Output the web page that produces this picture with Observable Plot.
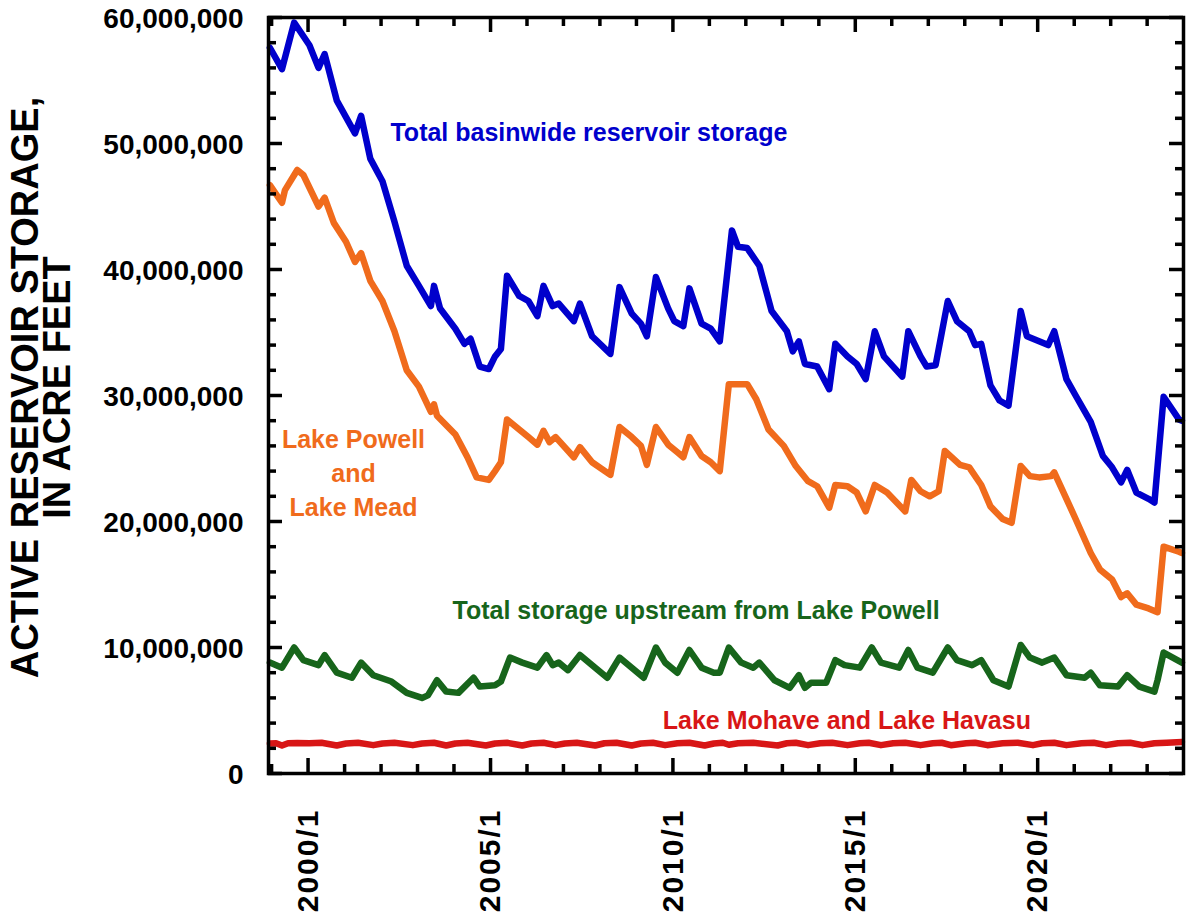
<!DOCTYPE html>
<html>
<head>
<meta charset="utf-8">
<script src="https://cdn.jsdelivr.net/npm/d3@7"></script>
<script src="https://cdn.jsdelivr.net/npm/@observablehq/plot@0.6"></script>
<style>
  html, body { margin: 0; padding: 0; background: #fff; }
  #chart svg { display: block; }
  g[font-size="30"] text { letter-spacing: 2px; }
</style>
</head>
<body>
<div id="chart"></div>
<script>
// ---------------- DATA (values in millions of acre-feet) ----------------
const seriesNames = [
  "Total basinwide reservoir storage",
  "Lake Powell and Lake Mead",
  "Total storage upstream from Lake Powell",
  "Lake Mohave and Lake Havasu"
];

const basinDates = ["1998-12","1999-04","1999-08","2000-01","2000-04","2000-06","2000-10","2001-04","2001-06","2001-09",
  "2002-01","2002-05","2002-09","2003-01","2003-05","2003-06","2003-08","2004-01","2004-04","2004-06",
  "2004-09","2004-12","2005-02","2005-04","2005-06","2005-10","2006-01","2006-04","2006-06","2006-09",
  "2006-11","2007-04","2007-06","2007-10","2008-04","2008-07","2008-11","2009-02","2009-04","2009-07",
  "2009-11","2010-01","2010-04","2010-06","2010-10","2011-01","2011-04","2011-08","2011-10","2012-01",
  "2012-05","2012-09","2013-02","2013-04","2013-06","2013-08","2013-12","2014-04","2014-06","2014-10",
  "2015-01","2015-04","2015-07","2015-10","2016-04","2016-06","2016-10","2016-12","2017-03","2017-07",
  "2017-10","2018-02","2018-04","2018-06","2018-09","2018-12","2019-03","2019-07","2019-09","2020-01",
  "2020-04","2020-06","2020-10","2021-01","2021-06","2021-10","2022-01","2022-04","2022-06","2022-09",
  "2023-01","2023-03","2023-06","2023-11","2023-12"];
const basinValues = [57.6,55.9,59.6,57.8,56.0,57.1,53.4,50.8,52.2,48.8,
  47.0,43.8,40.3,38.7,37.1,38.7,36.9,35.3,34.1,34.5,
  32.3,32.1,33.1,33.7,39.5,37.9,37.5,36.3,38.7,37.1,
  37.3,35.9,37.3,34.7,33.3,38.6,36.5,35.7,34.7,39.4,
  36.9,35.9,35.5,38.5,35.7,35.3,34.3,43.1,41.8,41.7,
  40.3,36.7,35.1,33.5,34.3,32.5,32.3,30.5,34.1,33.1,
  32.5,31.3,35.1,33.1,31.5,35.1,33.1,32.3,32.4,37.5,
  35.9,35.1,34.0,34.1,30.8,29.6,29.2,36.7,34.7,34.3,
  34.0,35.1,31.3,30.0,27.9,25.2,24.3,23.1,24.1,22.3,
  21.8,21.5,29.9,28.1,28.0];

const powellMeadDates = ["1998-12","1999-04","1999-05","1999-09","1999-11","2000-04","2000-06","2000-09","2001-01","2001-04",
  "2001-06","2001-09","2002-01","2002-05","2002-09","2003-01","2003-05","2003-06","2003-07","2004-01",
  "2004-05","2004-08","2004-12","2005-02","2005-04","2005-06","2005-10","2006-01","2006-04","2006-06",
  "2006-08","2006-10","2007-04","2007-06","2007-10","2008-04","2008-07","2008-11","2009-02","2009-04",
  "2009-07","2009-11","2010-02","2010-04","2010-06","2010-10","2011-01","2011-04","2011-07","2012-01",
  "2012-04","2012-08","2013-01","2013-05","2013-09","2013-12","2014-04","2014-06","2014-10","2015-01",
  "2015-04","2015-07","2015-11","2016-05","2016-07","2016-10","2017-01","2017-04","2017-06","2017-11",
  "2018-02","2018-06","2018-09","2019-01","2019-04","2019-07","2019-10","2020-01","2020-05","2020-06",
  "2020-10","2021-01","2021-06","2021-09","2022-01","2022-04","2022-06","2022-09","2023-01","2023-04",
  "2023-06","2023-11","2023-12"];
const powellMeadValues = [46.7,45.3,46.3,47.9,47.5,45.0,45.7,43.7,42.2,40.6,
  41.3,39.1,37.5,35.1,32.0,30.7,28.7,29.3,28.4,26.9,
  25.1,23.5,23.3,24.0,24.7,28.1,27.3,26.7,26.1,27.2,
  26.3,26.7,25.1,25.9,24.7,23.7,27.5,26.7,26.0,24.5,
  27.5,26.1,25.5,25.1,26.7,25.2,24.7,24.0,30.9,30.9,
  29.7,27.3,26.0,24.4,23.2,22.8,21.1,22.9,22.8,22.3,
  20.8,22.9,22.3,20.8,23.3,22.4,22.0,22.4,25.6,24.5,
  24.3,22.9,21.2,20.2,19.9,24.4,23.6,23.5,23.6,23.9,
  21.8,20.2,17.5,16.2,15.4,14.0,14.3,13.4,13.1,12.8,
  18.0,17.6,17.5];

const upstreamDates = ["1998-12","1999-04","1999-08","1999-11","2000-04","2000-06","2000-10","2001-03","2001-06","2001-10",
  "2002-04","2002-09","2003-02","2003-04","2003-07","2003-10","2004-02","2004-07","2004-09","2005-02",
  "2005-04","2005-07","2005-11","2006-04","2006-07","2006-09","2006-11","2007-02","2007-06","2007-11",
  "2008-03","2008-07","2008-11","2009-03","2009-07","2009-10","2010-02","2010-06","2010-10","2011-02",
  "2011-04","2011-07","2011-11","2012-03","2012-05","2012-10","2013-03","2013-06","2013-08","2013-10",
  "2014-03","2014-06","2014-09","2015-02","2015-06","2015-09","2016-03","2016-06","2016-09","2017-02",
  "2017-07","2017-10","2018-03","2018-06","2018-10","2019-03","2019-07","2019-10","2020-02","2020-06",
  "2020-10","2021-04","2021-06","2021-09","2022-03","2022-06","2022-10","2023-03","2023-04","2023-06",
  "2023-12"];
const upstreamValues = [8.8,8.4,10.0,9.0,8.6,9.4,8.0,7.6,8.8,7.8,
  7.3,6.4,6.0,6.2,7.4,6.5,6.4,7.6,6.9,7.0,
  7.3,9.2,8.8,8.4,9.4,8.6,8.8,8.2,9.4,8.4,
  7.6,9.2,8.4,7.6,10.0,8.8,8.0,9.8,8.4,8.0,
  8.0,10.0,8.8,8.4,8.8,7.4,6.8,7.8,6.8,7.2,
  7.2,9.0,8.6,8.4,10.0,8.8,8.4,9.8,8.4,8.0,
  10.0,9.0,8.6,9.0,7.4,6.9,10.2,9.2,8.8,9.2,
  7.8,7.6,8.0,7.0,6.9,7.8,6.9,6.5,7.4,9.6,
  8.8];

const mohaveHavasuDates = ["1998-12","1999-02","1999-04","1999-06","1999-09","2000-01","2000-05","2000-10","2001-01","2001-05",
  "2001-10","2002-01","2002-05","2002-11","2003-02","2003-06","2003-10","2004-01","2004-05","2004-11",
  "2005-02","2005-06","2005-11","2006-02","2006-06","2006-10","2007-01","2007-05","2007-11","2008-02",
  "2008-06","2008-11","2009-02","2009-06","2009-10","2010-02","2010-06","2010-11","2011-02","2011-05",
  "2011-07","2011-10","2012-03","2012-11","2013-02","2013-05","2013-09","2014-01","2014-05","2014-10",
  "2015-02","2015-05","2015-09","2016-01","2016-05","2016-10","2017-02","2017-05","2017-08","2018-01",
  "2018-04","2018-08","2019-01","2019-06","2019-11","2020-02","2020-06","2020-10","2021-03","2021-07",
  "2021-11","2022-03","2022-07","2022-11","2023-03","2023-07","2023-12"];
const mohaveHavasuValues = [2.38,2.40,2.22,2.40,2.43,2.40,2.44,2.22,2.38,2.44,
  2.25,2.38,2.44,2.25,2.38,2.44,2.22,2.38,2.44,2.22,
  2.38,2.44,2.22,2.38,2.44,2.25,2.38,2.44,2.22,2.40,
  2.44,2.22,2.38,2.44,2.25,2.40,2.44,2.22,2.38,2.44,
  2.28,2.40,2.44,2.22,2.40,2.44,2.25,2.40,2.44,2.25,
  2.40,2.44,2.25,2.40,2.44,2.25,2.40,2.44,2.25,2.40,
  2.44,2.25,2.40,2.44,2.25,2.40,2.44,2.25,2.40,2.44,
  2.25,2.40,2.44,2.25,2.40,2.45,2.50];

// axis ticks / labels
const yMajorTicks = [0, 10e6, 20e6, 30e6, 40e6, 50e6, 60e6];
const yMinorTicks = [2e6, 4e6, 6e6, 8e6, 12e6, 14e6, 16e6, 18e6, 22e6, 24e6, 26e6, 28e6,
  32e6, 34e6, 36e6, 38e6, 42e6, 44e6, 46e6, 48e6, 52e6, 54e6, 56e6, 58e6];
const xMajorYears = [2000, 2005, 2010, 2015, 2020];
const xMinorYears = [1999, 2001, 2002, 2003, 2004, 2006, 2007, 2008, 2009, 2011, 2012, 2013, 2014,
  2016, 2017, 2018, 2019, 2021, 2022, 2023];
const xTickLabels = ["2000/1", "2005/1", "2010/1", "2015/1", "2020/1"];
const yTitle = "ACTIVE RESERVOIR STORAGE,\nIN ACRE FEET";

// in-plot series labels (anchor date, anchor value in millions)
const labelTexts = ["Total basinwide reservoir storage", "Lake Powell\nand\nLake Mead",
  "Total storage upstream from Lake Powell", "Lake Mohave and Lake Havasu"];
const labelDates = ["2002-04-05", "2001-03-31", "2003-12-17", "2009-09-21"];
const labelValues = [50.8, 24.0, 12.9, 4.2];

// ---------------- STYLES ----------------
const seriesColors = ["#0000cc", "#f06b1c", "#17651b", "#d81616"];
const FONT = "'Liberation Sans', Arial, Helvetica, sans-serif";

// ---------------- BUILD TABLES ----------------
const parseMonth = s => new Date(s + "-15T00:00:00Z");
const parseDay = s => new Date(s + "T00:00:00Z");
const yearDate = y => new Date(Date.UTC(y, 0, 1));
function rows(name, dates, vals) {
  return dates.map((d, i) => ({series: name, date: parseMonth(d), value: vals[i] * 1e6}));
}
const table = [
  ...rows(seriesNames[3], mohaveHavasuDates, mohaveHavasuValues),
  ...rows(seriesNames[2], upstreamDates, upstreamValues),
  ...rows(seriesNames[1], powellMeadDates, powellMeadValues),
  ...rows(seriesNames[0], basinDates, basinValues)
];
const labels = labelTexts.map((t, i) => ({
  series: seriesNames[i], text: t, date: parseDay(labelDates[i]), value: labelValues[i] * 1e6
}));
const xMajor = xMajorYears.map(yearDate);
const xMinor = xMinorYears.map(yearDate);

const W = 1186, H = 915, ML = 268, MR = 3, MT = 17, MB = 142;
const PW = W - ML - MR, PH = H - MT - MB;
const tickStyle = {stroke: "black", strokeWidth: 3.5};

const chart = Plot.plot({
  width: W, height: H,
  marginLeft: ML, marginRight: MR, marginTop: MT, marginBottom: MB,
  style: {fontFamily: FONT, background: "white", color: "black", overflow: "visible"},
  x: {type: "utc", domain: [parseDay("1998-12-01"), parseDay("2023-12-31")], axis: null},
  y: {domain: [0, 60e6], axis: null},
  color: {domain: seriesNames, range: seriesColors},
  marks: [
    Plot.line(table, {x: "date", y: "value", z: "series", stroke: "series",
      strokeWidth: 6.5, strokeLinejoin: "round", strokeLinecap: "round"}),
    // inward ticks: left / right
    Plot.tickY(yMajorTicks, {...tickStyle, insetRight: PW - 14}),
    Plot.tickY(yMinorTicks, {...tickStyle, insetRight: PW - 8}),
    Plot.tickY(yMajorTicks, {...tickStyle, insetLeft: PW - 14}),
    Plot.tickY(yMinorTicks, {...tickStyle, insetLeft: PW - 8}),
    // inward ticks: bottom / top
    Plot.tickX(xMajor, {...tickStyle, insetTop: PH - 15}),
    Plot.tickX(xMinor, {...tickStyle, insetTop: PH - 9}),
    Plot.tickX(xMajor, {...tickStyle, insetBottom: PH - 15}),
    Plot.tickX(xMinor, {...tickStyle, insetBottom: PH - 9}),
    Plot.frame({stroke: "black", strokeWidth: 3.5}),
    // y tick labels
    Plot.text(yMajorTicks, {y: d => d, text: d => d3.format(",")(d), frameAnchor: "left",
      textAnchor: "end", dx: -25, dy: 2, fontSize: 28, fontWeight: "bold", fill: "black"}),
    // x tick labels
    Plot.text(xMajor, {x: d => d, text: (d, i) => xTickLabels[i], frameAnchor: "bottom",
      rotate: -90, textAnchor: "end", lineAnchor: "middle", dy: 35,
      fontSize: 30, fontWeight: "bold", fill: "black"}),
    // y title
    Plot.text([yTitle], {text: d => d, frameAnchor: "left", rotate: -90,
      textAnchor: "middle", lineAnchor: "middle", lineHeight: 0.86,
      dx: -225, dy: -8, fontSize: 38, fontWeight: "bold", fill: "black"}),
    // series labels
    Plot.text(labels.filter((d, i) => i !== 1), {x: "date", y: "value", text: "text", fill: "series",
      textAnchor: "start", lineAnchor: "middle", fontSize: 25, fontWeight: "bold"}),
    Plot.text(labels.filter((d, i) => i === 1), {x: "date", y: "value", text: "text", fill: "series",
      textAnchor: "middle", lineAnchor: "middle", lineHeight: 1.37, fontSize: 25, fontWeight: "bold"})
  ]
});
document.getElementById("chart").appendChild(chart);
</script>
</body>
</html>
